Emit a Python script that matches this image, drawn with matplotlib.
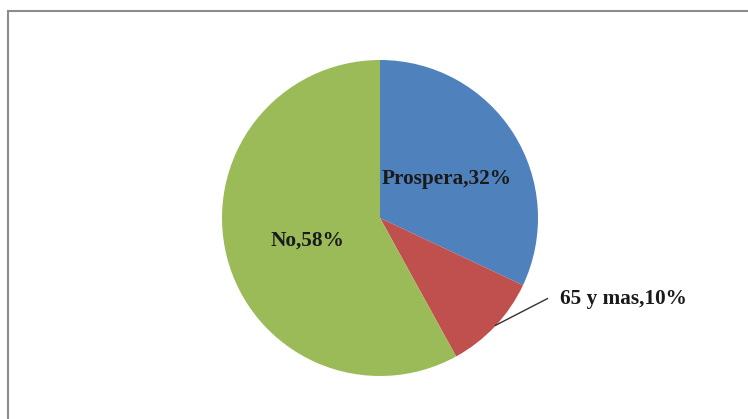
import matplotlib.pyplot as plt
from matplotlib.lines import Line2D

categories = ['Prospera', '65 y mas', 'No']
values = [32, 10, 58]
colors = ['#4F81BD', '#C0504D', '#9BBB59']

W, H = 748, 419
fig = plt.figure(figsize=(W / 100, H / 100), dpi=100)

# outer chart frame (only left and top edges visible)
fig.add_artist(Line2D([7.5 / W, 7.5 / W], [0, 1 - 11.5 / H], transform=fig.transFigure,
                      color='#8c8c8c', lw=1.5))
fig.add_artist(Line2D([7.5 / W, 1], [1 - 11.5 / H, 1 - 11.5 / H], transform=fig.transFigure,
                      color='#8c8c8c', lw=1.5))

cx, cy, r = 380, 218, 158
ax = fig.add_axes([(cx - r) / W, (H - cy - r) / H, 2 * r / W, 2 * r / H])
ax.pie(values, colors=colors, startangle=90, counterclock=False, radius=1,
       wedgeprops=dict(linewidth=0))
ax.set_xlim(-1, 1)
ax.set_ylim(-1, 1)
ax.set_aspect('equal')
ax.axis('off')

font = dict(family='Liberation Serif', fontsize=15.3, fontweight='bold', color='#1a1a1a')
ax.text(0.42, 0.25, f'{categories[0]},{values[0]}%', ha='center', va='center', **font)
ax.text(-0.46, -0.14, f'{categories[2]},{values[2]}%', ha='center', va='center', **font)
ax.text(1.14, -0.51, f'{categories[1]},{values[1]}%', ha='left', va='center',
        clip_on=False, **font)
ax.plot([0.73, 1.06], [-0.68, -0.51], color='#333333', lw=1, clip_on=False)

fig.savefig('out.png', dpi=100)
